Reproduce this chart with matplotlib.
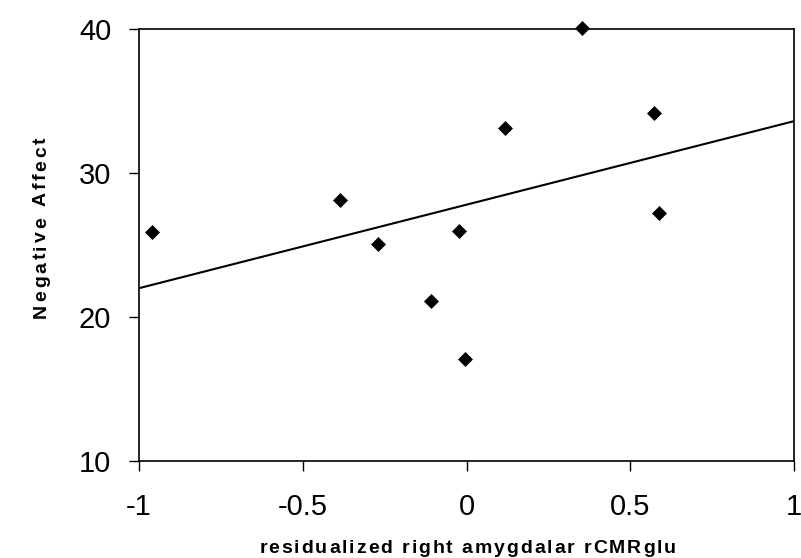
import matplotlib
matplotlib.use("Agg")
import matplotlib.pyplot as plt
from matplotlib.font_manager import FontProperties, findfont
from matplotlib.ft2font import FT2Font

x_vals = [-0.96, -0.385, -0.27, -0.107, -0.024, -0.004, 0.119, 0.353, 0.572, 0.587]
y_vals = [25.9, 28.1, 25.1, 21.1, 26.0, 17.1, 33.1, 40.1, 34.2, 27.2]
fit_x = [-1.0, 1.0]
fit_y = [22.0, 33.6]
x_ticks = [-1, -0.5, 0, 0.5, 1]
x_ticklabels = ["-1", "-0.5", "0", "0.5", "1"]
y_ticks = [10, 20, 30, 40]
x_label = "residualized right amygdalar rCMRglu"
y_label = "Negative Affect"

plt.rcParams['font.family'] = ['Liberation Sans', 'DejaVu Sans']

W, H, DPI = 801, 558, 100
fig = plt.figure(figsize=(W / DPI, H / DPI), dpi=DPI)
ax = fig.add_axes([139/W, 1-461/H, (794-139)/W, (461-29)/H])

ax.plot(fit_x, fit_y, color='black', lw=1.5, solid_capstyle='butt', clip_on=False)
ax.plot(x_vals, y_vals, linestyle='none', marker='D', markersize=7,
        color='black', markeredgewidth=0.5, clip_on=False, zorder=3)

ax.set_xlim(-1, 1)
ax.set_ylim(10, 40)
ax.set_xticks(x_ticks)
ax.set_xticklabels(x_ticklabels)
ax.set_yticks(y_ticks)
for s in ax.spines.values():
    s.set_linewidth(1.2)
ax.tick_params(axis='both', direction='out', length=7, width=1, labelsize=21)
ax.tick_params(axis='x', pad=16)
ax.tick_params(axis='y', pad=13)


def spaced_text(text, cx, cy, fontsize, spacing_px, vertical=False):
    """Draw letter-spaced bold text centered at pixel (cx, cy) (baseline for horizontal)."""
    prop = FontProperties(family='Liberation Sans', weight='bold', size=fontsize)
    font = FT2Font(findfont(prop))
    font.set_size(fontsize, 72)
    adv = [font.load_char(ord(c)).linearHoriAdvance / 65536 * DPI / 72 for c in text]
    total = sum(adv) + spacing_px * (len(text) - 1)
    pos = -total / 2
    for c, a in zip(text, adv):
        if vertical:
            px, py = cx, cy + pos
            fig.text(px / W, 1 - py / H if False else py / H, c, fontproperties=prop,
                     rotation=90, rotation_mode='anchor', ha='left', va='baseline')
        else:
            px, py = cx + pos, cy
            fig.text(px / W, 1 - py / H, c, fontproperties=prop,
                     ha='left', va='baseline')
        pos += a + spacing_px


spaced_text(x_label, 467.5, 553, 14, 1.9)
# vertical label: centre at y=227.5 from top -> bottom-up coordinate
spaced_text(y_label, 46, H - 227.5, 14, 2.8, vertical=True)

fig.savefig("out.png", dpi=DPI)
